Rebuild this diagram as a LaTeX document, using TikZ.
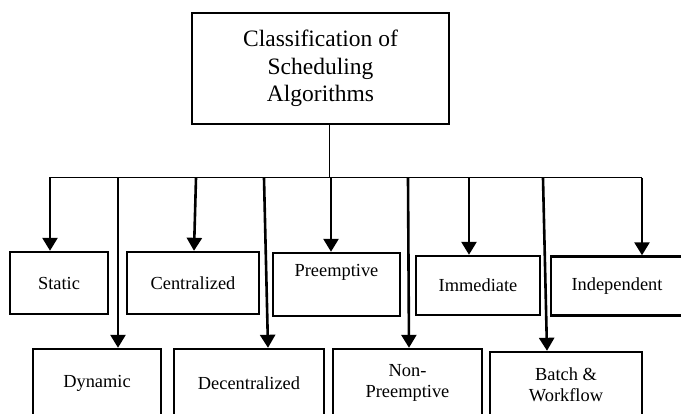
\documentclass[tikz,border=0pt]{standalone}
\usepackage{fontspec}
\setmainfont{Liberation Serif}
\usetikzlibrary{arrows.meta}
\tikzset{
  catbox/.style={draw, line width=2.4pt, inner sep=0pt, align=center,
    font=\fontsize{18.4}{21}\selectfont},
  rootbox/.style={draw, line width=2.4pt, inner sep=0pt, align=center,
    font=\fontsize{23.5}{27.5}\selectfont},
  thinline/.style={line width=1pt},
  arr/.style={line width=2.6pt, -{Triangle[width=15pt,length=13pt]}}
}
\begin{document}
\begin{tikzpicture}[x=1pt,y=-1pt]
\useasboundingbox (0,0) rectangle (681,414);
\clip (0,0) rectangle (681,414);
\fill[white] (0,0) rectangle (681,414);

% root
\node[rootbox, minimum width=257pt, minimum height=111pt] (root) at (320.5,68.5)
  {Classification of\\Scheduling\\Algorithms};

% upper row of categories
\node[catbox, minimum width=98pt,  minimum height=62pt] (static)  at (59,283)    {Static};
\node[catbox, minimum width=132pt, minimum height=62pt] (central) at (193,283)   {Centralized};
\node[catbox, minimum width=127pt, minimum height=63pt] (preempt) at (336.5,284.5) {Preemptive\\\strut};
\node[catbox, minimum width=124pt, minimum height=59pt] (immed)   at (478,285.5) {Immediate};
\node[catbox, minimum width=144pt, minimum height=59pt] (indep)   at (623,286)   {\hspace*{-12pt}Independent};

% lower row of categories
\node[catbox, minimum width=128pt, minimum height=68pt] (dynamic) at (97,383)    {Dynamic};
\node[catbox, minimum width=150pt, minimum height=68pt] (decent)  at (249,383)   {Decentralized};
\node[catbox, minimum width=149pt, minimum height=67pt] (nonpre)  at (407.5,382.5) {Non-\\Preemptive};
\node[catbox, minimum width=152pt, minimum height=66pt] (batch)   at (566,385)   {Batch \&\\Workflow};

% distribution bus
\coordinate (hub)  at (329,178);
\coordinate (busL) at (49,178);
\coordinate (busR) at (642,178);
\draw[thinline] (root.south -| hub) -- (hub);
\draw[thinline] (busL) -- (busR);

% branch points on the bus
\coordinate (b1) at (50,178);
\coordinate (b2) at (118,178);
\coordinate (b3) at (196,178);
\coordinate (b4) at (264,178);
\coordinate (b5) at (331,178);
\coordinate (b6) at (408,178);
\coordinate (b7) at (469,178);
\coordinate (b8) at (543,178);
\coordinate (b9) at (642,178);
% arrow tip columns
\coordinate (t3) at (194,0);
\coordinate (t4) at (268,0);
\coordinate (t6) at (409,0);
\coordinate (t8) at (547,0);

\draw[arr] (b1) -- (b1 |- static.north);
\draw[arr] (b2) -- (b2 |- dynamic.north);
\draw[arr] (b3) -- (t3 |- central.north);
\draw[arr] (b4) -- (t4 |- decent.north);
\draw[arr] (b5) -- (b5 |- preempt.north);
\draw[arr] (b6) -- (t6 |- nonpre.north);
\draw[arr] (b7) -- (b7 |- immed.north);
\draw[arr] (b8) -- (t8 |- batch.north);
\draw[arr] (b9) -- (b9 |- indep.north);
\end{tikzpicture}
\end{document}
